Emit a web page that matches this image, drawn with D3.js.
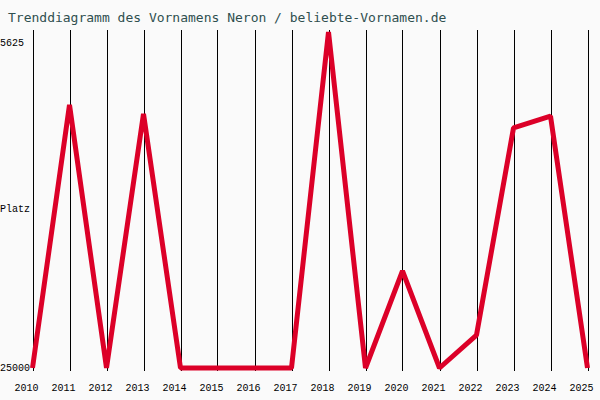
<!DOCTYPE html>
<html>
<head>
<meta charset="utf-8">
<script src="https://cdn.jsdelivr.net/npm/d3@7"></script>
<style>
  body { margin: 0; background: #fafafa; }
  svg { display: block; }
</style>
</head>
<body>
<div id="chart"></div>
<script>
// Data (rank per year, 25000 = not ranked)
const years = [2010, 2011, 2012, 2013, 2014, 2015, 2016, 2017, 2018, 2019, 2020, 2021, 2022, 2023, 2024, 2025];
const ranks = [25000, 9830, 25000, 10350, 25000, 25000, 25000, 25000, 5625, 25000, 19400, 25000, 23100, 11160, 10470, 25000];
const yTickLabels = ['5625', '25000'];
const yTitle = 'Platz';
const title = 'Trenddiagramm des Vornamens Neron / beliebte-Vornamen.de';

const width = 600, height = 400;
const labelFont = '"Liberation Mono", monospace';

const svg = d3.select('#chart')
    .append('svg')
    .attr('width', width)
    .attr('height', height)
    .style('background', '#fafafa');

// Scales
const xScale = d3.scaleLinear()
    .domain([years[0], years[years.length - 1]])
    .range([32.5, 587.5]);

const yScale = d3.scaleLinear()
    .domain([25000, 5625])
    .range([368, 32]);

// Title
svg.append('text')
    .attr('x', 8)
    .attr('y', 22)
    .attr('fill', '#2f4f4f')
    .style('font-family', '"DejaVu Sans Mono", monospace')
    .style('font-size', '13px')
    .text(title);

// Vertical grid lines, one per year
svg.selectAll('.grid')
    .data(years)
    .enter()
    .append('line')
    .attr('class', 'grid')
    .attr('x1', d => Math.round(xScale(d)) + 0.5)
    .attr('x2', d => Math.round(xScale(d)) + 0.5)
    .attr('y1', 30)
    .attr('y2', 371)
    .attr('stroke', '#000')
    .attr('stroke-width', 1);

// Year labels
svg.selectAll('.year')
    .data(years)
    .enter()
    .append('text')
    .attr('class', 'year')
    .attr('x', d => xScale(d) - 6)
    .attr('y', 391)
    .attr('text-anchor', 'middle')
    .attr('fill', '#000')
    .style('font-family', labelFont)
    .style('font-size', '10px')
    .text(d => d);

// Y labels
svg.append('text')
    .attr('x', 0)
    .attr('y', 46)
    .style('font-family', labelFont)
    .style('font-size', '10px')
    .text(yTickLabels[0]);

svg.append('text')
    .attr('x', 0)
    .attr('y', 371)
    .style('font-family', labelFont)
    .style('font-size', '10px')
    .text(yTickLabels[1]);

svg.append('text')
    .attr('x', 0)
    .attr('y', 212)
    .style('font-family', labelFont)
    .style('font-size', '10px')
    .text(yTitle);

// Trend line
const line = d3.line()
    .x((d, i) => xScale(years[i]))
    .y(d => yScale(d));

svg.append('path')
    .datum(ranks)
    .attr('d', line)
    .attr('fill', 'none')
    .attr('stroke', '#dc0028')
    .attr('stroke-width', 5)
    .attr('stroke-linejoin', 'bevel');
</script>
</body>
</html>
